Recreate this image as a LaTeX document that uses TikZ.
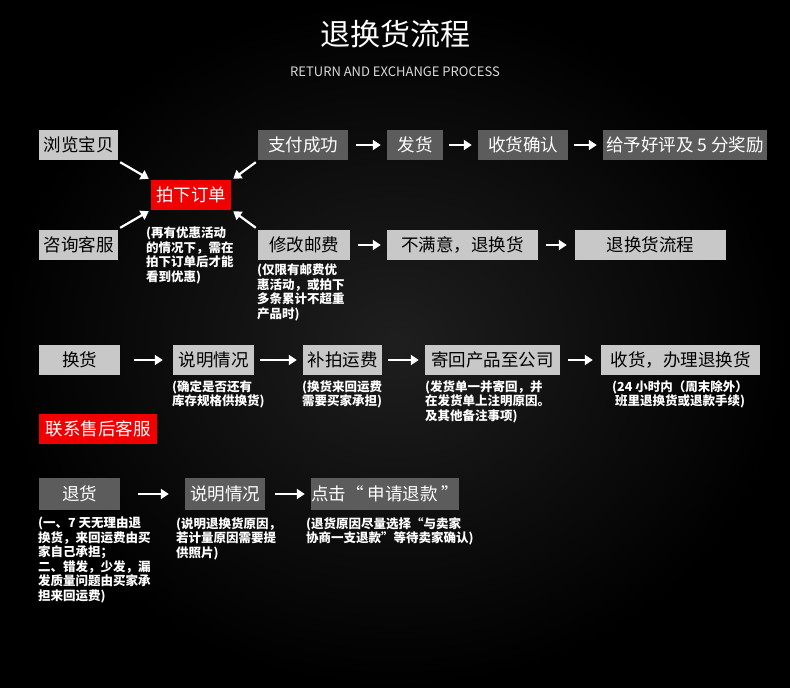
\documentclass[tikz,border=0pt]{standalone}
\usepackage{fontspec}
\setmainfont{Noto Sans CJK SC}
\usetikzlibrary{arrows.meta,calc}
\definecolor{lg}{HTML}{C8C8C8}
\definecolor{dg}{HTML}{5C5C5C}
\definecolor{rd}{HTML}{F00000}
\tikzset{
 bx/.style={minimum height=30,inner sep=0,font=\fontsize{17.5}{19}\selectfont},
 lbox/.style={bx,fill=lg,text=black},
 dbox/.style={bx,fill=dg,text=white},
 rbox/.style={bx,fill=rd,text=white},
 note/.style={anchor=north west,align=left,text=white,inner sep=0,font=\fontsize{12.5}{14.5}\selectfont\bfseries},
 arr/.style={draw=white,line width=2.2pt,-{Triangle[length=8pt,width=10pt]}},
}
\begin{document}
\begin{tikzpicture}[x=1pt,y=-1pt]
\useasboundingbox (0,0) rectangle (790,688);
\shade[inner color=black!88!white,outer color=black] (0,0) rectangle (790,688);
\node[text=white,font=\fontsize{30}{32}\selectfont] (t) at (395,34) {退换货流程};
\node[text=white!85!black,font=\fontsize{13}{15}\selectfont] (st) at (395,72) {RETURN AND EXCHANGE PROCESS};
% row1
\node[lbox,minimum width=79] (a1) at (78.5,145) {浏览宝贝};
\node[dbox,minimum width=90] (a2) at (303,145) {支付成功};
\node[dbox,minimum width=56] (a3) at (415,145) {发货};
\node[dbox,minimum width=90] (a4) at (523,145) {收货确认};
\node[dbox,minimum width=164] (a5) at (685,145) {给予好评及 5 分奖励};
\node[rbox,minimum width=80] (r) at (191,195) {拍下订单};
% row2
\node[lbox,minimum width=79] (b1) at (78.5,245) {咨询客服};
\node[lbox,minimum width=92] (b2) at (304,245) {修改邮费};
\node[lbox,minimum width=151] (b3) at (462.5,245) {不满意，退换货};
\node[lbox,minimum width=151] (b4) at (650.5,245) {退换货流程};
\node[note] (n1) at (146,227) {(再有优惠活动\\的情况下，需在\\拍下订单后才能\\看到优惠)};
\node[note] (n2) at (257,264) {(仅限有邮费优\\惠活动，或拍下\\多条累计不超重\\产品时)};
\draw[arr] ($(a1.south east)+(2,2)$) -- ($(r.north west)+(-2,-1)$);
\draw[arr] ($(a2.south west)+(-2,2)$) -- ($(r.north east)+(2,-1)$);
\draw[arr] ($(b1.north east)+(2,-2)$) -- ($(r.south west)+(-2,1)$);
\draw[arr] ($(b2.north west)+(-2,-2)$) -- ($(r.south east)+(2,1)$);
\draw[arr] ($(a2.east)+(8,0)$) -- ($(a3.west)+(-6,0)$);
\draw[arr] ($(a3.east)+(6,0)$) -- ($(a4.west)+(-6,0)$);
\draw[arr] ($(a4.east)+(6,0)$) -- ($(a5.west)+(-6,0)$);
\draw[arr] ($(b2.east)+(8,0)$) -- ($(b3.west)+(-6,0)$);
\draw[arr] ($(b3.east)+(8,0)$) -- ($(b4.west)+(-8,0)$);
% row3
\node[lbox,minimum width=81] (c1) at (79.5,360) {换货};
\node[lbox,minimum width=81] (c2) at (213.5,360) {说明情况};
\node[lbox,minimum width=79] (c3) at (342.5,360) {补拍运费};
\node[lbox,minimum width=135] (c4) at (492.5,360) {寄回产品至公司};
\node[lbox,minimum width=159] (c5) at (680.5,360) {收货，办理退换货};
\draw[arr] ($(c1.east)+(14,0)$) -- ($(c2.west)+(-10,0)$);
\draw[arr] ($(c2.east)+(6,0)$) -- ($(c3.west)+(-6,0)$);
\draw[arr] ($(c3.east)+(6,0)$) -- ($(c4.west)+(-6,0)$);
\draw[arr] ($(c4.east)+(8,0)$) -- ($(c5.west)+(-8,0)$);
\node[note] (n3) at (172,380) {(确定是否还有\\库存规格供换货)};
\node[note] (n4) at (302,380) {(换货来回运费\\需要买家承担)};
\node[note] (n5) at (425,380) {(发货单一并寄回，并\\在发货单上注明原因。\\及其他备注事项)};
\node[note,anchor=north,align=center] (n6) at (680,380) {(24 小时内（周末除外）\\班里退换货或退款手续)};
\node[rbox,minimum width=118] (k) at (98,429) {联系售后客服};
% row4
\node[dbox,minimum width=81,minimum height=32] (d1) at (79.5,494) {退货};
\node[dbox,minimum width=80,minimum height=32] (d2) at (225,494) {说明情况};
\node[dbox,minimum width=148,minimum height=32] (d3) at (385,494) {点击“ 申请退款 ”};
\draw[arr] ($(d1.east)+(18,0)$) -- ($(d2.west)+(-16,0)$);
\draw[arr] ($(d2.east)+(10,0)$) -- ($(d3.west)+(-6,0)$);
\node[note] (n7) at (38,517) {(一、7 天无理由退\\换货，来回运费由买\\家自己承担；\\二、错发，少发，漏\\发质量问题由买家承\\担来回运费)};
\node[note] (n8) at (176,517) {(说明退换货原因，\\若计量原因需要提\\供照片)};
\node[note] (n9) at (306,517) {(退货原因尽量选择“与卖家\\协商一支退款”等待卖家确认)};
\end{tikzpicture}
\end{document}
